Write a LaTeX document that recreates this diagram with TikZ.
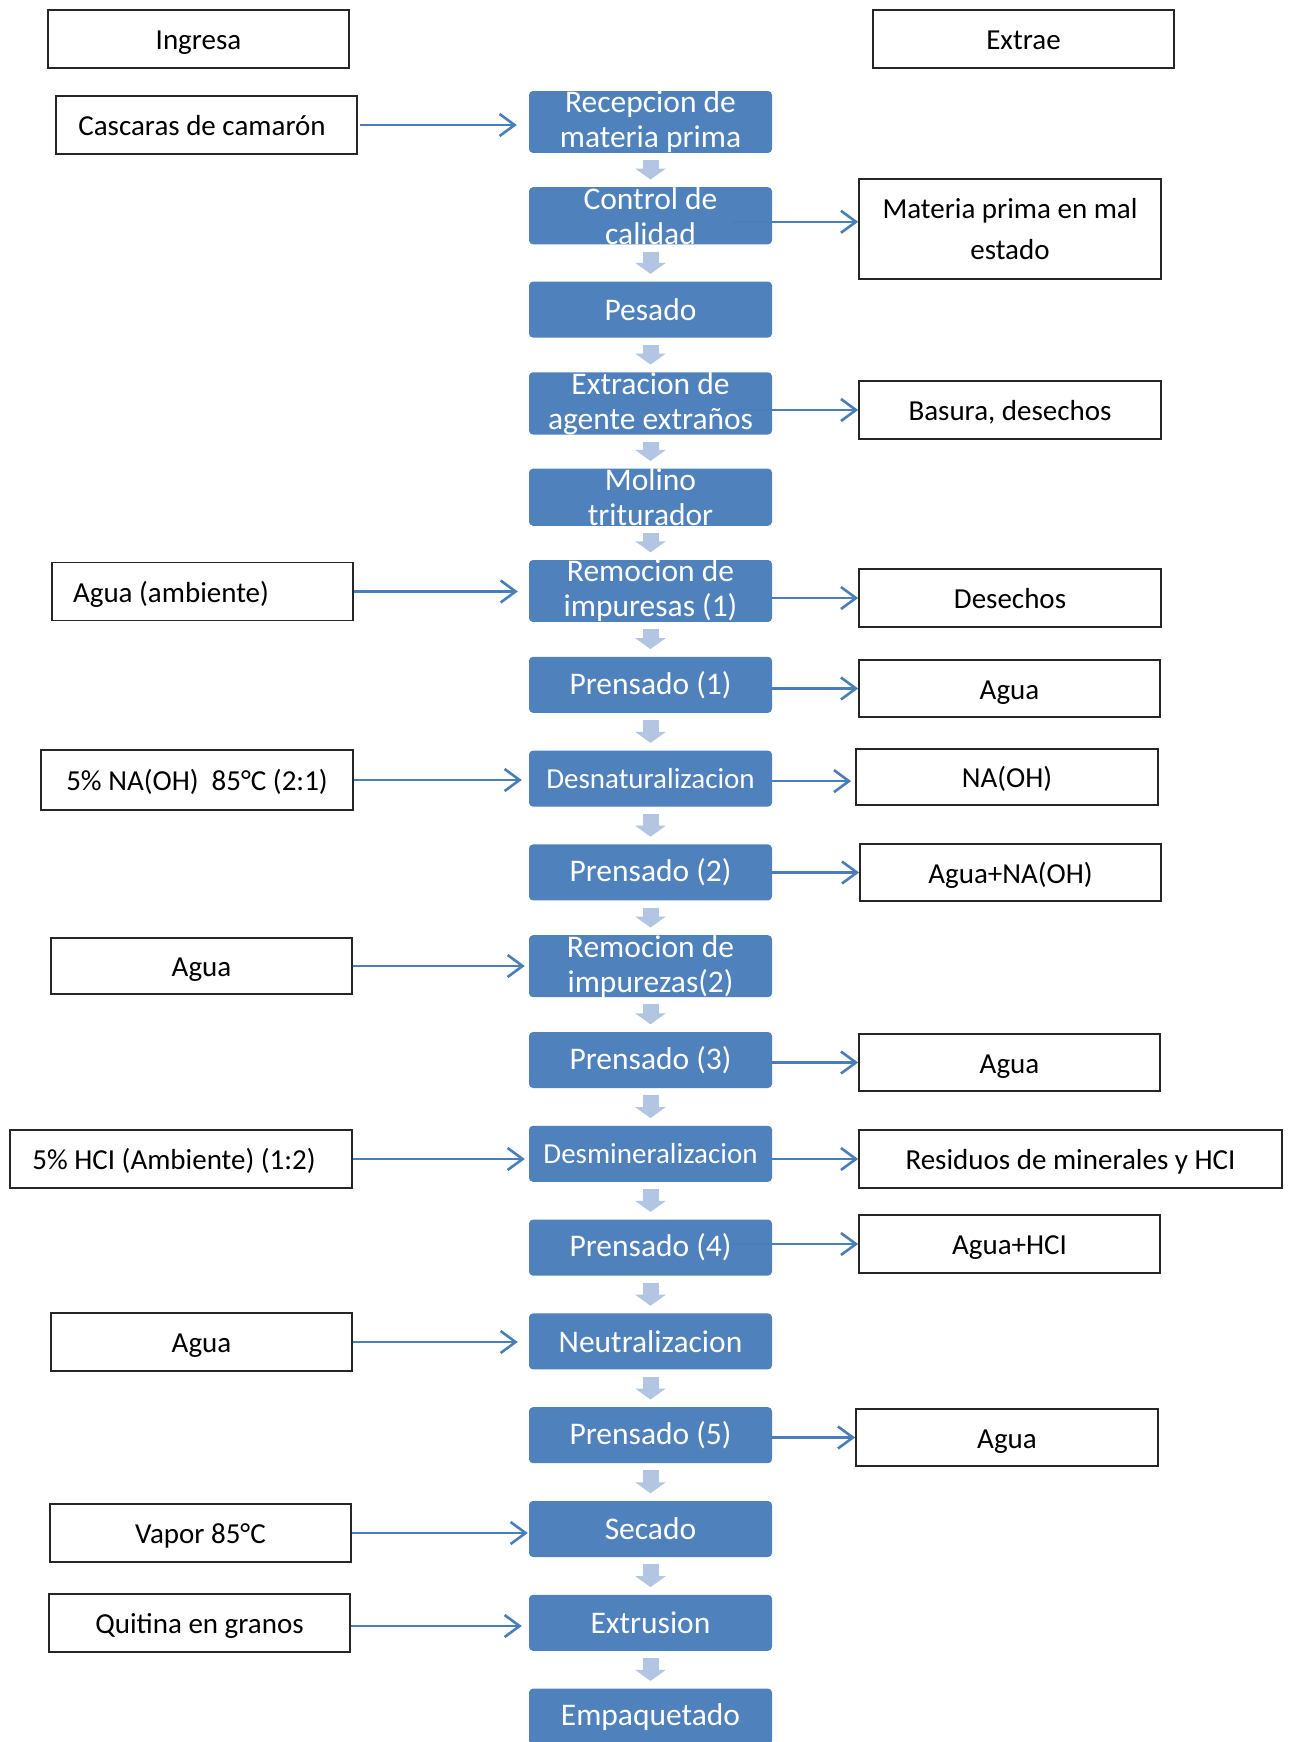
\documentclass[tikz,border=0pt]{standalone}
\usepackage{fontspec}
\setmainfont{Carlito}
\usetikzlibrary{arrows.meta,calc}
\definecolor{procblue}{RGB}{79,129,189}
\definecolor{blockarr}{RGB}{178,197,227}
\definecolor{linkblue}{RGB}{74,126,187}
\begin{document}
\begin{tikzpicture}[x=1pt,y=-1pt,
  proc/.style={fill=procblue, rounded corners=4pt, minimum width=243pt, minimum height=56pt,
    inner sep=0pt, text=white, align=center, font=\fontsize{31.5}{35}\selectfont},
  procsmall/.style={proc, font=\fontsize{29}{35}\selectfont},
  iobox/.style={draw=black!85, line width=1.7pt, minimum width=301pt, minimum height=58pt,
    inner sep=0pt, align=center, font=\fontsize{29}{41}\selectfont},
  io/.style={iobox, text height=26pt, text depth=5pt},
  feed/.style={draw=linkblue, line width=2.6pt, -{Straight Barb[length=15pt,width=22pt]}},
  stepdown/.style={draw=blockarr, line width=16pt, -{Triangle[length=11pt,width=30pt]}}
]
\fill[white] (0,0) rectangle (1292,1742);
\useasboundingbox (0,0) rectangle (1292,1742);

% process column
\node[proc] (p0) at (650.5,122) {Recepcion de\\materia prima};
\node[proc] (p1) at (650.5,215.8) {Control de\\calidad};
\node[proc] (p2) at (650.5,309.6) {Pesado};
\node[proc] (p3) at (650.5,403.4) {Extracion de\\agente extraños};
\node[proc] (p4) at (650.5,497.2) {Molino\\triturador};
\node[proc] (p5) at (650.5,591) {Remocion de\\impuresas (1)};
\node[proc] (p6) at (650.5,684.8) {Prensado (1)};
\node[procsmall] (p7) at (650.5,778.6) {Desnaturalizacion};
\node[proc] (p8) at (650.5,872.4) {Prensado (2)};
\node[proc] (p9) at (650.5,966.2) {Remocion de\\impurezas(2)};
\node[proc] (p10) at (650.5,1060) {Prensado (3)};
\node[procsmall] (p11) at (650.5,1153.8) {Desmineralizacion};
\node[proc] (p12) at (650.5,1247.6) {Prensado (4)};
\node[proc] (p13) at (650.5,1341.4) {Neutralizacion};
\node[proc] (p14) at (650.5,1435.2) {Prensado (5)};
\node[proc] (p15) at (650.5,1529) {Secado};
\node[proc] (p16) at (650.5,1622.8) {Extrusion};
\node[proc] (p17) at (650.5,1716.6) {Empaquetado};

\foreach \i in {0,...,16}{
  \pgfmathtruncatemacro\j{\i+1}
  \draw[stepdown] ([yshift=-7pt]p\i.south) -- ([yshift=7.5pt]p\j.north);
}

% headers
\node[io] (ingresa) at (198.5,39) {Ingresa};
\node[io] (extrae) at (1023.5,39) {Extrae};

% inputs
\node[io] (in1) at (206.5,125) {Cascaras de camarón\hspace{9pt}};
\node[io] (in2) at (202.5,591.5) {Agua (ambiente)\hspace{63pt}};
\node[io, minimum width=312pt, minimum height=60pt] (in3) at (197,780) {5\% NA(OH)\ \ 85°C (2:1)};
\node[io, minimum height=56pt] (in4) at (201.5,966) {Agua};
\node[io, minimum width=342pt] (in5) at (181,1159) {5\% HCI (Ambiente) (1:2)\hspace{14pt}};
\node[io] (in6) at (201.5,1342) {Agua};
\node[io] (in7) at (200.5,1533) {Vapor 85°C};
\node[io] (in8) at (199.5,1623) {Quitina en granos};

% outputs
\node[iobox, minimum width=302pt, minimum height=100pt] (out1) at (1010,229) {Materia prima en mal\\estado};
\node[io, minimum width=302pt] (out2) at (1010,410) {Basura, desechos};
\node[io, minimum width=302pt] (out3) at (1010,598) {Desechos};
\node[io, minimum height=57pt] (out4) at (1009.5,688.5) {Agua};
\node[io, minimum width=302pt, minimum height=56pt] (out5) at (1007,777) {NA(OH)};
\node[io, minimum height=57pt] (out6) at (1010.5,872.5) {Agua+NA(OH)};
\node[io, minimum height=57pt] (out7) at (1009.5,1062.5) {Agua};
\node[io, minimum width=423pt] (out8) at (1070.5,1159) {Residuos de minerales y HCI};
\node[io] (out9) at (1009.5,1244) {Agua+HCI};
\node[io, minimum width=302pt, minimum height=57pt] (out10) at (1007,1437.5) {Agua};

% input arrows
\draw[feed, shorten >=12pt] ([xshift=2pt]in1.east) -- (in1.east -| p0.west);
\draw[feed, shorten >=11pt] (in2.east) -- (in2.east -| p5.west);
\draw[feed, shorten >=7pt] (in3.east) -- (in3.east -| p7.west);
\draw[feed, shorten >=4pt] (in4.east) -- (in4.east -| p9.west);
\draw[feed, shorten >=4pt] (in5.east) -- (in5.east -| p11.west);
\draw[feed, shorten >=11pt] (in6.east) -- (in6.east -| p13.west);
\draw[feed, shorten >=1pt] (in7.east) -- (in7.east -| p15.west);
\coordinate (q8) at ([yshift=-3pt]in8.east);
\draw[feed, shorten >=7pt] (q8) -- (q8 -| p16.west);

% output arrows
\coordinate (s1) at ([xshift=-39pt,yshift=-6pt]p1.east);
\draw[feed] (s1) -- (s1 -| out1.west);
\coordinate (s3) at ([xshift=-39pt]p3.east |- out2.west);
\draw[feed] (s3) -- (out2.west);
\draw[feed] (p5.east |- out3.west) -- (out3.west);
\draw[feed] (p6.east |- out4.west) -- (out4.west);
\coordinate (s7) at ([yshift=-2.5pt]p7.east);
\draw[feed, shorten >=4pt] (s7) -- (s7 -| out5.west);
\draw[feed] (p8.east |- out6.west) -- (out6.west);
\draw[feed] (p10.east |- out7.west) -- (out7.west);
\draw[feed] (p11.east |- out8.west) -- (out8.west);
\coordinate (s12) at ([xshift=-40pt]p12.east |- out9.west);
\draw[feed] (s12) -- (out9.west);
\draw[feed] (p14.east |- out10.west) -- (out10.west);
\end{tikzpicture}
\end{document}
